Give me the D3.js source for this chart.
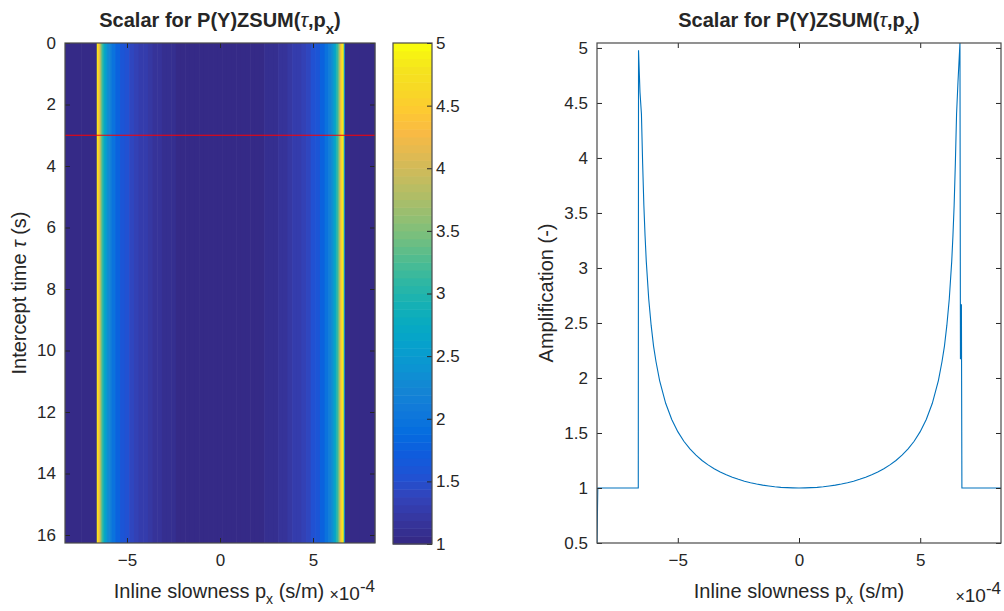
<!DOCTYPE html>
<html>
<head>
<meta charset="utf-8">
<script src="https://cdn.jsdelivr.net/npm/d3@7"></script>
<style>
  body { margin: 0; background: #fff; }
  svg { font-family: "Liberation Sans", Arial, sans-serif; }
  text { fill: #262626; }
  .tick text { font-size: 17px; }
  .tick line { stroke: #262626; }
</style>
</head>
<body>
<svg id="chart" width="1004" height="611"></svg>
<script>
// slowness samples (x 1e-4 s/m) and the amplification
const slowness = [
  -8.333, -8.3, -6.63, -6.62, -6.56, -6.5, -6.45, -6.4, -6.35, -6.3, -6.2, -6.1,
  -6.0, -5.9, -5.75, -5.5, -5.25, -5.0, -4.75, -4.5, -4.25, -4.0, -3.75, -3.5,
  -3.25, -3.0, -2.75, -2.5, -2.25, -2.0, -1.75, -1.5, -1.25, -1.0, -0.75, -0.5,
  -0.25, 0, 0.25, 0.5, 0.75, 1.0, 1.25, 1.5, 1.75, 2.0, 2.25, 2.5,
  2.75, 3.0, 3.25, 3.5, 3.75, 4.0, 4.25, 4.5, 4.75, 5.0, 5.25, 5.5,
  5.75, 5.9, 6.0, 6.1, 6.2, 6.3, 6.35, 6.4, 6.45, 6.5, 6.56, 6.64,
  6.66, 6.7, 6.72, 8.3, 8.333
];
const amplitude = [
  0.5, 1.0, 1.0, 4.98, 4.60, 4.40, 3.95, 3.57, 3.29, 3.06, 2.72, 2.48,
  2.29, 2.15, 1.976, 1.770, 1.623, 1.512, 1.425, 1.355, 1.298, 1.250, 1.210, 1.175,
  1.145, 1.120, 1.098, 1.079, 1.062, 1.048, 1.036, 1.026, 1.018, 1.011, 1.006, 1.003,
  1.001, 1.000, 1.001, 1.003, 1.006, 1.011, 1.018, 1.026, 1.036, 1.048, 1.062, 1.079,
  1.098, 1.120, 1.145, 1.175, 1.210, 1.250, 1.298, 1.355, 1.425, 1.512, 1.623, 1.770,
  1.976, 2.15, 2.29, 2.48, 2.72, 3.06, 3.29, 3.57, 3.95, 4.40, 4.70, 5.045,
  2.17, 2.67, 1.0, 1.0, 1.0
];

const tauTicks = [0, 2, 4, 6, 8, 10, 12, 14, 16];
const slowTicks = [-5, 0, 5];
const ampTicks = [0.5, 1, 1.5, 2, 2.5, 3, 3.5, 4, 4.5, 5];
const cbarTicks = [1, 1.5, 2, 2.5, 3, 3.5, 4, 4.5, 5];
const slowRange = [-8.333, 8.333];
const tauRange = [0, 16.26];
const ampRange = [0.5, 5.045];
const colorRange = [1, 5];
const markerTau = [3];

// parula colormap key colours
const parulaStops = [
  [0.2081, 0.1663, 0.5292], [0.2123, 0.2138, 0.6270], [0.1959, 0.2645, 0.7279],
  [0.1253, 0.3242, 0.8303], [0.0591, 0.3598, 0.8683], [0.0165, 0.4266, 0.8786],
  [0.0629, 0.4737, 0.8554], [0.0793, 0.5200, 0.8312], [0.0488, 0.5772, 0.8228],
  [0.0239, 0.6287, 0.8038], [0.0267, 0.6642, 0.7607], [0.0843, 0.6928, 0.7062],
  [0.1801, 0.7177, 0.6424], [0.3022, 0.7376, 0.5712], [0.4420, 0.7481, 0.5033],
  [0.5709, 0.7485, 0.4494], [0.6834, 0.7435, 0.4044], [0.7858, 0.7356, 0.3633],
  [0.8824, 0.7274, 0.3217], [0.9739, 0.7314, 0.2666], [0.9955, 0.7861, 0.1967],
  [0.9697, 0.8481, 0.1475], [0.9589, 0.8949, 0.1132], [0.9763, 0.9831, 0.0538]
];

const svg = d3.select('#chart');
const toRgb = c => d3.rgb(c[0] * 255, c[1] * 255, c[2] * 255);
const parula = d3.piecewise(d3.interpolateRgb, parulaStops.map(toRgb));
const palette = d3.range(64).map(i => parula(i / 63));
const color = d3.scaleQuantize().domain(colorRange).range(palette);

const heatBox = { left: 65, right: 375, top: 43, bottom: 543 };
const cbarBox = { left: 393, right: 432, top: 43, bottom: 544 };
const lineBox = { left: 597, right: 1001, top: 43, bottom: 543 };

const xHeat = d3.scaleLinear().domain(slowRange).range([heatBox.left, heatBox.right]);
const yHeat = d3.scaleLinear().domain(tauRange).range([heatBox.top, heatBox.bottom]);
const yCbar = d3.scaleLinear().domain(colorRange).range([cbarBox.bottom, cbarBox.top]);
const xLine = d3.scaleLinear().domain(slowRange).range([lineBox.left, lineBox.right]);
const yLine = d3.scaleLinear().domain(ampRange).range([lineBox.bottom, lineBox.top]);

const TICK = 5;

function frame(g, box) {
  g.append('rect')
    .attr('x', box.left)
    .attr('y', box.top)
    .attr('width', box.right - box.left)
    .attr('height', box.bottom - box.top)
    .attr('fill', 'none')
    .attr('stroke', '#4a4a4a')
    .attr('stroke-width', 1.2);
}

function axes(g, box, x, y, xt, yt, yFmt) {
  g.append('g')
    .attr('transform', `translate(0,${box.bottom})`)
    .call(d3.axisBottom(x).tickValues(xt).tickSizeInner(-TICK).tickSizeOuter(0).tickPadding(11))
    .call(a => a.select('.domain').remove());
  g.append('g')
    .attr('transform', `translate(0,${box.top})`)
    .call(d3.axisTop(x).tickValues(xt).tickSizeInner(-TICK).tickSizeOuter(0).tickFormat(''))
    .call(a => a.select('.domain').remove());
  g.append('g')
    .attr('transform', `translate(${box.left},0)`)
    .call(d3.axisLeft(y).tickValues(yt).tickSizeInner(-TICK).tickSizeOuter(0).tickPadding(9).tickFormat(yFmt))
    .call(a => a.select('.domain').remove());
  g.append('g')
    .attr('transform', `translate(${box.right},0)`)
    .call(d3.axisRight(y).tickValues(yt).tickSizeInner(-TICK).tickSizeOuter(0).tickFormat(''))
    .call(a => a.select('.domain').remove());
  g.selectAll('.tick text').attr('font-family', null).attr('font-size', null);
}

function title(x) {
  const t = svg.append('text')
    .attr('x', x)
    .attr('y', 27)
    .attr('text-anchor', 'middle')
    .style('font-size', '20px')
    .style('font-weight', 'bold');
  t.append('tspan').text('Scalar for P(Y)ZSUM(');
  t.append('tspan').style('font-style', 'italic').style('font-weight', 'normal').text('τ');
  t.append('tspan').text(',p');
  t.append('tspan').attr('dy', 7).style('font-size', '15px').text('x');
  t.append('tspan').attr('dy', -7).text(')');
}

function xLabel(x) {
  const t = svg.append('text')
    .attr('x', x)
    .attr('y', 598)
    .attr('text-anchor', 'middle')
    .style('font-size', '20px');
  t.append('tspan').text('Inline slowness p');
  t.append('tspan').attr('dy', 6).style('font-size', '14px').text('x');
  t.append('tspan').attr('dy', -6).text(' (s/m)');
}

function exponent(x, y) {
  const t = svg.append('text')
    .attr('x', x)
    .attr('y', y)
    .attr('text-anchor', 'end')
    .style('font-size', '19px');
  t.append('tspan').style('font-size', '16px').text('×');
  t.append('tspan').text('10');
  t.append('tspan').attr('dy', -8).style('font-size', '17px').text('-4');
}

// ---------- left panel: tau-p scalar image ----------
const heat = svg.append('g').attr('class', 'heat');
const edges = slowness.map((s, i) => {
  if (i === 0) return slowRange[0];
  return (slowness[i - 1] + s) / 2;
});
edges.push(slowRange[1]);

heat.selectAll('rect.col')
  .data(slowness)
  .enter()
  .append('rect')
  .attr('class', 'col')
  .attr('x', (d, i) => xHeat(edges[i]))
  .attr('width', (d, i) => xHeat(edges[i + 1]) - xHeat(edges[i]) + (i < slowness.length - 1 ? 0.6 : 0))
  .attr('y', yHeat(tauRange[0]))
  .attr('height', yHeat(tauRange[1]) - yHeat(tauRange[0]))
  .style('fill', (d, i) => color(amplitude[i]));

heat.selectAll('line.marker')
  .data(markerTau)
  .enter()
  .append('line')
  .attr('class', 'marker')
  .attr('x1', heatBox.left)
  .attr('x2', heatBox.right)
  .attr('y1', d => yHeat(d))
  .attr('y2', d => yHeat(d))
  .style('stroke', '#ff0000')
  .style('stroke-width', 1);

axes(heat, heatBox, xHeat, yHeat, slowTicks, tauTicks, d3.format('d'));
frame(heat, heatBox);
title((heatBox.left + heatBox.right) / 2);
xLabel(219);
exponent(heatBox.right, 600);

const yl = svg.append('text')
  .attr('transform', `translate(26,${(heatBox.top + heatBox.bottom) / 2}) rotate(-90)`)
  .attr('text-anchor', 'middle')
  .style('font-size', '20px');
yl.append('tspan').text('Intercept time ');
yl.append('tspan').style('font-style', 'italic').text('τ');
yl.append('tspan').text(' (s)');

// ---------- colorbar ----------
const cbar = svg.append('g').attr('class', 'colorbar');
cbar.selectAll('rect.band')
  .data(palette)
  .enter()
  .append('rect')
  .attr('class', 'band')
  .attr('x', cbarBox.left)
  .attr('width', cbarBox.right - cbarBox.left)
  .attr('y', (d, i) => yCbar(colorRange[0] + (i + 1) * (colorRange[1] - colorRange[0]) / 64))
  .attr('height', (d, i) => yCbar(colorRange[0]) - yCbar(colorRange[0] + (colorRange[1] - colorRange[0]) / 64) + 0.5)
  .style('fill', d => d);

cbar.append('g')
  .attr('transform', `translate(${cbarBox.right},0)`)
  .call(d3.axisRight(yCbar).tickValues(cbarTicks).tickSizeInner(-TICK).tickSizeOuter(0).tickPadding(4).tickFormat(d3.format('')))
  .call(a => a.select('.domain').remove())
  .call(a => a.selectAll('.tick text').attr('font-family', null).attr('font-size', null));
frame(cbar, cbarBox);

// ---------- right panel: amplification curve ----------
const lp = svg.append('g').attr('class', 'curve');
svg.append('defs').append('clipPath').attr('id', 'clip-line')
  .append('rect')
  .attr('x', lineBox.left)
  .attr('y', lineBox.top)
  .attr('width', lineBox.right - lineBox.left)
  .attr('height', lineBox.bottom - lineBox.top);

const curve = d3.line()
  .x((d, i) => xLine(slowness[i]))
  .y(d => yLine(d));

lp.append('path')
  .datum(amplitude)
  .attr('d', curve)
  .attr('clip-path', 'url(#clip-line)')
  .style('fill', 'none')
  .style('stroke', '#0072bd')
  .style('stroke-width', 1.1);

axes(lp, lineBox, xLine, yLine, slowTicks, ampTicks, d3.format(''));
frame(lp, lineBox);
title((lineBox.left + lineBox.right) / 2);
xLabel((lineBox.left + lineBox.right) / 2);
exponent(lineBox.right, 602);

svg.append('text')
  .attr('transform', `translate(553,${(lineBox.top + lineBox.bottom) / 2}) rotate(-90)`)
  .attr('text-anchor', 'middle')
  .style('font-size', '20px')
  .text('Amplification (-)');
</script>
</body>
</html>
